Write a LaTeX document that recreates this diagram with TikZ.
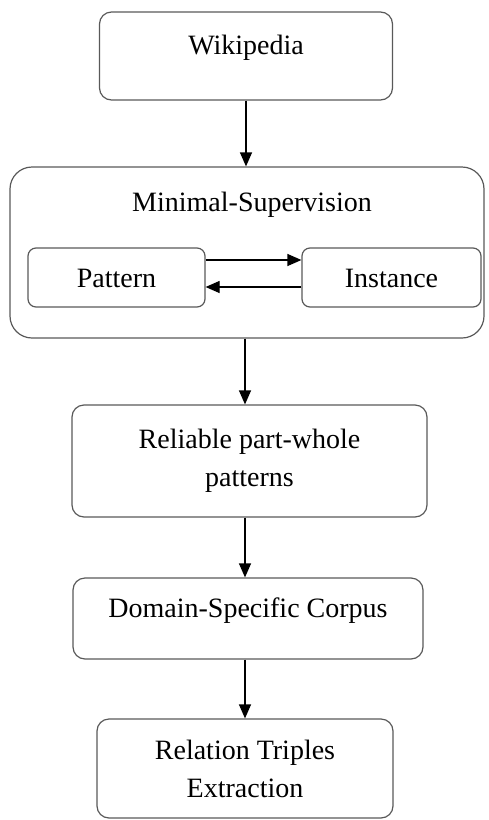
\documentclass[tikz,border=0pt]{standalone}
\usepackage{fontspec}
\setmainfont{Liberation Serif}
\usetikzlibrary{arrows.meta}

\begin{document}
\begin{tikzpicture}[x=0.5pt, y=-0.5pt,
    every node/.style={font=\fontsize{14}{19}\selectfont, align=center},
    stage/.style={draw=black!65, line width=0.6pt, rounded corners=6pt, inner sep=0pt},
    oneline/.style={text height=9.5pt, text depth=#1},
    flow/.style={-{Triangle[width=6pt, length=7pt]}, line width=0.6pt}]
    \useasboundingbox (0, 0) rectangle (488, 820);

    \node [stage, oneline=11.5pt, minimum width=146.5pt, minimum height=44pt] (wiki) at (246, 56) {Wikipedia};

    \node [stage, rounded corners=11pt, minimum width=237pt, minimum height=85.5pt] (minsup) at (247, 252.5) {};
    \node (title) at (252, 205) {Minimal-Supervision};
    \node [stage, oneline=0pt, rounded corners=4pt, minimum width=88.5pt, minimum height=29.5pt] (pattern) at (116.5, 277.5) {Pattern};
    \node [stage, oneline=0pt, rounded corners=4pt, minimum width=89.5pt, minimum height=29.5pt] (instance) at (391.5, 277.5) {Instance};
    \draw [flow] ([yshift=8.75pt]pattern.east) -- ([yshift=8.75pt]instance.west);
    \draw [flow] ([yshift=-4.75pt]instance.west) -- ([yshift=-4.75pt]pattern.east);

    \node [stage, minimum width=177.5pt, minimum height=56pt] (reliable) at (249.5, 461) {Reliable part-whole\\patterns};
    \node [stage, oneline=11pt, minimum width=175pt, minimum height=40.5pt] (domain) at (248, 618.5) {Domain-Specific Corpus};
    \node [stage, minimum width=148pt, minimum height=49.5pt] (relation) at (245, 768.5) {Relation Triples\\Extraction};

    \draw [flow] (wiki.south) -- (wiki.south |- minsup.north);
    \draw [flow] (minsup.south -| relation) -- (relation |- reliable.north);
    \draw [flow] (reliable.south -| relation) -- (relation |- domain.north);
    \draw [flow] (domain.south -| relation) -- (relation.north);
\end{tikzpicture}
\end{document}
